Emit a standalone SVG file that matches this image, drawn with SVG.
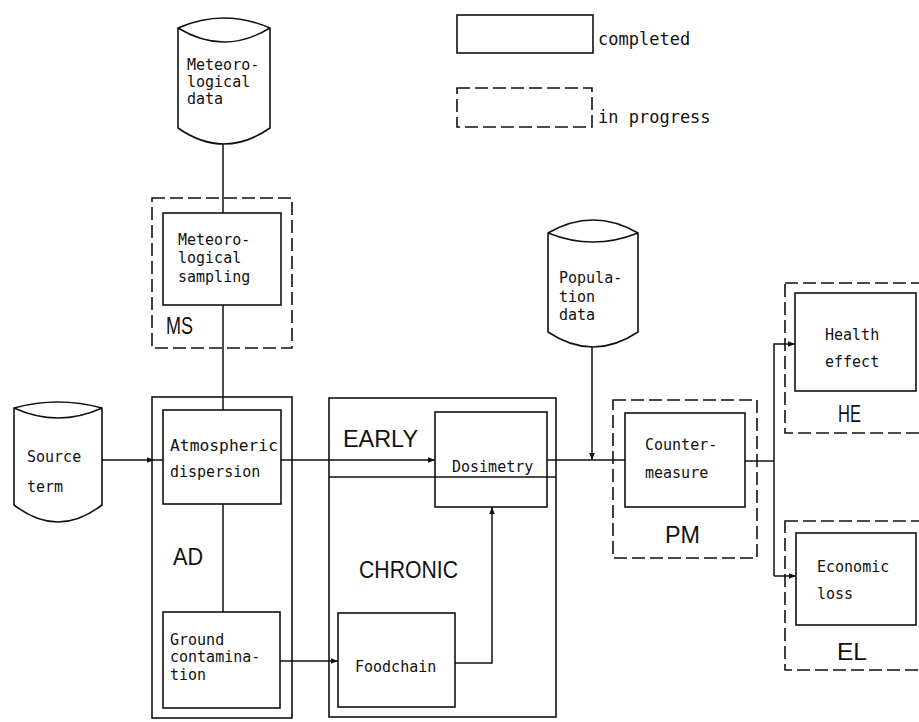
<svg xmlns="http://www.w3.org/2000/svg" width="919" height="722" viewBox="0 0 919 722">
  <defs>
    <marker id="arrow" viewBox="0 0 10 10" refX="10" refY="5" markerWidth="7" markerHeight="7" markerUnits="userSpaceOnUse" orient="auto">
      <path d="M0,1 L10,5 L0,9 Z" fill="#111"/>
    </marker>
    <style>
      .box { fill: none; stroke: #111; stroke-width: 1.6; }
      .dash { fill: none; stroke: #111; stroke-width: 1.6; stroke-dasharray: 13 5; }
      .cyl { fill: #fff; stroke: #111; stroke-width: 1.6; stroke-linejoin: miter; }
      .line { fill: none; stroke: #111; stroke-width: 1.5; }
      .t { font-family: "DejaVu Sans Mono", "Liberation Mono", monospace; font-size: 15px; fill: #111; }
      .leg { font-family: "DejaVu Sans Mono", "Liberation Mono", monospace; font-size: 17px; fill: #111; }
      .big { font-family: "Liberation Sans", "DejaVu Sans", sans-serif; font-size: 24px; fill: #111; }
    </style>
  </defs>
  <rect width="919" height="722" fill="#fff"/>

  <!-- legend -->
  <g id="legend">
    <rect class="box" x="457" y="15" width="136" height="38"/>
    <text class="leg" x="598" y="45">completed</text>
    <rect class="dash" x="457" y="88" width="135" height="39"/>
    <text class="leg" x="598" y="123">in progress</text>
  </g>

  <!-- connectors -->
  <g id="connectors">
    <path class="line" d="M223,144 V213"/>
    <path class="line" d="M223,305 V410"/>
    <path class="line" d="M223,504 V612"/>
    <path class="line" d="M102,460 H154" marker-end="url(#arrow)"/>
    <path class="line" d="M154,460 H163"/>
    <path class="line" d="M281,460 H435" marker-end="url(#arrow)"/>
    <path class="line" d="M280,661 H338" marker-end="url(#arrow)"/>
    <path class="line" d="M455,663 H492 V507" marker-end="url(#arrow)"/>
    <path class="line" d="M547,460 H625"/>
    <path class="line" d="M592,347 V460" marker-end="url(#arrow)"/>
    <path class="line" d="M745,461 H774"/>
    <path class="line" d="M774,576 V344 H795" marker-end="url(#arrow)"/>
    <path class="line" d="M774,576 H796" marker-end="url(#arrow)"/>
  </g>

  <!-- meteorological data store -->
  <g id="met-data">
    <path class="cyl" d="M178,28 Q224,8 270,28 V128 Q224,160 178,128 Z"/>
    <path class="line" d="M178,28 Q224,56 270,28"/>
    <text class="t" x="187" y="70">Meteoro-</text>
    <text class="t" x="187" y="87">logical</text>
    <text class="t" x="187" y="104">data</text>
  </g>

  <!-- MS: meteorological sampling -->
  <g id="ms">
    <rect class="dash" x="152" y="198" width="140" height="150"/>
    <rect class="box" x="163" y="213" width="118" height="92"/>
    <text class="t" x="178" y="245">Meteoro-</text>
    <text class="t" x="178" y="263">logical</text>
    <text class="t" x="178" y="282">sampling</text>
    <text class="big" x="166" y="334" textLength="27" lengthAdjust="spacingAndGlyphs">MS</text>
  </g>

  <!-- source term store -->
  <g id="source-term">
    <path class="cyl" d="M14,408 Q58,396 102,408 V505 Q58,539 14,505 Z"/>
    <path class="line" d="M14,408 Q58,428 102,408"/>
    <text class="t" x="27" y="462">Source</text>
    <text class="t" x="27" y="492">term</text>
  </g>

  <!-- AD: atmospheric dispersion module -->
  <g id="ad">
    <rect class="box" x="152" y="397" width="140" height="321"/>
    <rect class="box" x="163" y="410" width="118" height="94"/>
    <text class="t" x="170" y="451" textLength="108" lengthAdjust="spacingAndGlyphs">Atmospheric</text>
    <text class="t" x="170" y="477">dispersion</text>
    <text class="big" x="173" y="565" textLength="30" lengthAdjust="spacingAndGlyphs">AD</text>
    <rect class="box" x="163" y="612" width="117" height="96"/>
    <text class="t" x="170" y="645">Ground</text>
    <text class="t" x="170" y="662">contamina-</text>
    <text class="t" x="170" y="680">tion</text>
  </g>

  <!-- dose module: early / chronic -->
  <g id="dose">
    <rect class="box" x="329" y="398" width="227" height="319"/>
    <path class="line" d="M329,477 H556"/>
    <text class="big" x="343" y="447" textLength="75" lengthAdjust="spacingAndGlyphs">EARLY</text>
    <rect class="box" x="435" y="412" width="112" height="95"/>
    <text class="t" x="452" y="472">Dosimetry</text>
    <text class="big" x="359" y="578" textLength="99" lengthAdjust="spacingAndGlyphs">CHRONIC</text>
    <rect class="box" x="338" y="613" width="117" height="94"/>
    <text class="t" x="355" y="672">Foodchain</text>
  </g>

  <!-- population data store -->
  <g id="population">
    <path class="cyl" d="M548,233 Q593,207 638,233 V332 Q593,362 548,332 Z"/>
    <path class="line" d="M548,233 Q593,251 638,233"/>
    <text class="t" x="559" y="283">Popula-</text>
    <text class="t" x="559" y="302">tion</text>
    <text class="t" x="559" y="320">data</text>
  </g>

  <!-- PM: protective measures -->
  <g id="pm">
    <rect class="dash" x="613" y="400" width="144" height="158"/>
    <rect class="box" x="625" y="413" width="120" height="94"/>
    <text class="t" x="645" y="450">Counter-</text>
    <text class="t" x="645" y="478">measure</text>
    <text class="big" x="665" y="543" textLength="35" lengthAdjust="spacingAndGlyphs">PM</text>
  </g>

  <!-- HE: health effect -->
  <g id="he">
    <rect class="dash" x="785" y="283" width="145" height="150"/>
    <rect class="box" x="795" y="293" width="121" height="98"/>
    <text class="t" x="825" y="340">Health</text>
    <text class="t" x="825" y="367">effect</text>
    <text class="big" x="838" y="422" textLength="23" lengthAdjust="spacingAndGlyphs">HE</text>
  </g>

  <!-- EL: economic loss -->
  <g id="el">
    <rect class="dash" x="785" y="521" width="145" height="149"/>
    <rect class="box" x="796" y="533" width="120" height="92"/>
    <text class="t" x="817" y="572">Economic</text>
    <text class="t" x="817" y="599">loss</text>
    <text class="big" x="837" y="660" textLength="30" lengthAdjust="spacingAndGlyphs">EL</text>
  </g>
</svg>
